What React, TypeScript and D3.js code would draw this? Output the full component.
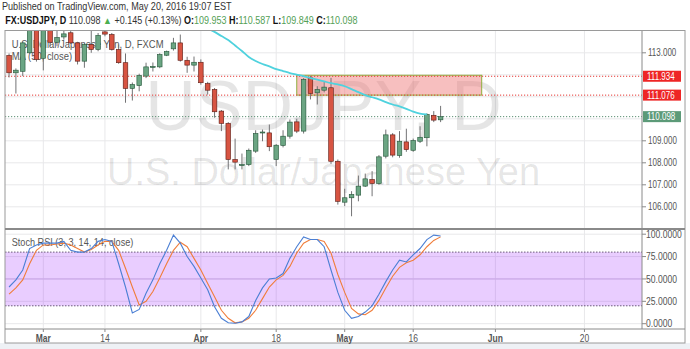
import React from 'react';
import * as d3 from 'd3';

// ---------- data ----------
const dates = [
  'Feb 23','Feb 24','Feb 25','Feb 26','Feb 29',
  'Mar 1','Mar 2','Mar 3','Mar 4','Mar 7','Mar 8','Mar 9','Mar 10','Mar 11','Mar 14','Mar 15','Mar 16','Mar 17','Mar 18',
  'Mar 21','Mar 22','Mar 23','Mar 24','Mar 25','Mar 28','Mar 29','Mar 30','Mar 31',
  'Apr 1','Apr 4','Apr 5','Apr 6','Apr 7','Apr 8','Apr 11','Apr 12','Apr 13','Apr 14','Apr 15','Apr 18','Apr 19','Apr 20',
  'Apr 21','Apr 22','Apr 25','Apr 26','Apr 27','Apr 28','Apr 29',
  'May 2','May 3','May 4','May 5','May 6','May 9','May 10','May 11','May 12','May 13','May 16','May 17','May 18','May 19','May 20',
];
const opens = [
  112.88,112.09,112.16,113.00,114.05, 112.75,114.02,113.48,113.72,113.91, 113.45,112.62,113.38,113.15,113.95,
  113.83,113.15,112.55,111.38,111.51, 111.94,112.36,112.36,112.89,113.18, 113.45,112.66,112.44,112.57,111.60,
  111.33,110.35,109.79,108.15,107.90, 107.92,108.53,109.38,109.36,108.15, 108.79,109.21,109.86,109.44,111.86,
  111.18,111.30,111.41,108.07,106.21, 106.41,106.53,106.94,107.24,107.06, 108.30,109.27,108.33,108.95,108.57,
  108.98,109.14,110.16,109.953,
];
const highs = [
  112.97,112.29,113.51,114.30,114.20, 114.30,114.20,114.10,114.10,114.00, 113.50,113.45,114.30,113.90,114.20,
  113.90,113.38,112.97,111.65,112.05, 112.55,112.56,112.98,113.10,113.68, 113.83,112.82,112.83,112.70,111.68,
  111.40,110.40,109.85,109.10,108.42, 108.65,109.48,109.51,109.74,108.85, 109.48,109.97,110.00,111.85,111.95,
  111.48,111.71,111.86,108.15,106.82, 106.71,107.42,107.51,107.62,108.35, 109.51,109.35,109.44,109.55,109.10,
  109.66,110.25,110.35,110.587,
];
const lows = [
  111.88,111.15,111.94,112.95,112.60, 112.20,113.30,113.30,113.60,113.40, 112.47,112.32,113.00,113.07,113.75,
  113.10,112.50,110.73,110.83,111.25, 111.85,112.15,112.30,112.85,113.10, 112.60,112.09,112.15,111.55,111.10,
  110.05,109.44,107.70,107.70,107.70, 107.85,108.45,108.98,108.53,107.85, 108.70,109.10,109.35,109.33,110.88,
  110.65,111.20,107.95,106.10,106.03, 105.57,106.25,106.90,106.48,107.00, 108.20,108.25,108.23,108.50,108.50,
  108.90,108.75,109.85,109.849,
];
const closes = [
  112.09,112.21,113.45,114.05,112.70, 114.10,113.48,113.70,113.86,113.45, 112.62,113.38,113.15,113.79,113.85,
  113.15,112.55,111.38,111.56,111.97, 112.36,112.38,112.92,113.06,113.45, 112.66,112.44,112.57,111.64,111.30,
  110.32,109.79,108.15,108.03,107.92, 108.57,109.33,109.40,108.73,108.80, 109.21,109.85,109.44,111.79,111.15,
  111.33,111.44,108.07,106.25,106.41, 106.56,106.94,107.27,107.06,108.27, 109.27,108.35,108.98,108.60,109.01,
  109.16,110.20,109.94,110.098,
];
// 50-day moving average (null = not shown / above the pane)
const ma50 = [
  null,null,null,null,null, null,null,null,null,null, null,null,null,null,null,
  null,null,null,null,null, null,null,null,null,null, null,null,null,114.25,114.10,
  113.95,113.76,113.58,113.33,113.08, 112.81,112.63,112.49,112.38,112.26, 112.17,112.08,112.01,111.94,111.85,
  111.78,111.70,111.62,111.56,111.48, 111.35,111.21,111.08,110.98,110.88, 110.76,110.65,110.56,110.45,110.33,
  110.24,110.20,null,null,
];
const stochK = [
  41,49,60,84,88, 90,90,90,92,82, 80,80,84,92,94, 92,67,41,12,16, 34,49,67,82,99, 90,75,64,51,38,
  19,6,1,0.5,2, 8,26,40,50,51, 56,73,86,97,94, 94,86,60,35,15, 6,8,13,20,33, 47,60,71,69,77, 84,94,99,98,
];
const stochD = [
  33,40,49,67,82, 88,88,89,90,88, 84,80,83,88,92, 92,82,62,41,21, 25,36,51,67,82, 91,86,73,60,45,
  30,15,6,1,2, 6,15,28,41,49, 54,64,79,90,94, 94,92,79,55,35, 17,11,10,15,26, 40,53,63,68,71, 77,86,93,97,
];
// x-axis tick labels: bar index (trading days from Feb 23) and text
const xTickIndex = [5, 14, 28, 39, 49, 59, 71, 84];
const xTickLabels = ['Mar', '14', 'Apr', '18', 'May', '16', 'Jun', '20'];
const xTickBold = [true, false, true, false, true, false, true, false];
const priceTicks = [106, 107, 108, 109, 110, 111, 112, 113];
const stochTicks = [0, 25, 50, 75, 100];
const levelResistance = 111.934;
const levelSupport = 111.076;
const lastPrice = 110.098;
const boxFrom = 42; // bar index
const boxTo = 69;   // bar index
const boxTop = 111.98;
const boxBottom = 111.076;

// ---------- layout ----------
const W = 690, H = 349;
const L = 5, R = 642, FR = 685;
const mainTop = 31, mainBottom = 228;
const stTop = 230, stBottom = 328;
const axisBottom = 343;
const FONT = '"Liberation Sans", Arial, sans-serif';

const x = d3.scaleLinear().domain([0, 63]).range([9.05, 440.6]);
const y = d3.scaleLinear().domain([106, 113]).range([206.8, 52.8]);
const ys = d3.scaleLinear().domain([0, 100]).range([323.7, 234.2]);

const UP = '#6ba583', DOWN = '#d75442', UPB = '#225437', DOWNB = '#5b1a13', WICK = '#737375';

function T({ x: tx, y: ty, sx = 0.84, size = 10, anchor = 'start', fill = '#555', weight = 'normal', children }: any) {
  return (
    <g transform={`translate(${tx},${ty}) scale(${sx},1)`}>
      <text x={0} y={0} textAnchor={anchor} fontSize={size} fill={fill} fontWeight={weight} fontFamily={FONT}>
        {children}
      </text>
    </g>
  );
}

export default function App() {
  const idx = d3.range(dates.length);
  const bw = 4.6;
  const maLine = d3.line<number>()
    .defined((i) => ma50[i] != null)
    .x((i) => x(i))
    .y((i) => y(ma50[i] as number))
    .curve(d3.curveMonotoneX);
  const kLine = d3.line<number>().x((i) => x(i)).y((i) => ys(stochK[i]));
  const dLine = d3.line<number>().x((i) => x(i)).y((i) => ys(stochD[i]));
  const flagTargets = [levelResistance, levelSupport, lastPrice];
  const shownPriceTicks = priceTicks.filter((p) => flagTargets.every((f) => Math.abs(y(p) - y(f)) > 10));

  const flag = (v: number, color: string) => (
    <g key={v}>
      <rect x={R + 1} y={y(v) - 5.5} width={38} height={11} fill={color} />
      <T x={R + 5} y={y(v) + 3.6} sx={0.8} fill="#fff">{v.toFixed(3)}</T>
    </g>
  );

  return (
    <div style={{ position: 'fixed', left: 0, top: 0, width: W, height: H, background: '#fff' }}>
      <svg width={W} height={H} style={{ display: 'block' }}>
        <defs>
          <clipPath id="cmain"><rect x={L} y={mainTop} width={R - L} height={mainBottom - mainTop} /></clipPath>
          <clipPath id="cst"><rect x={L} y={stTop} width={R - L} height={stBottom - stTop} /></clipPath>
        </defs>
        <rect x={0} y={0} width={W} height={H} fill="#fff" />
        <rect x={0} y={axisBottom} width={W} height={H - axisBottom} fill="#eef1f5" />

        {/* header */}
        <T x={2} y={10} sx={0.91} size={10} fill="#333">Published on TradingView.com, May 20, 2016 19:07 EST</T>
        <g transform="translate(5.3,24.3) scale(0.9,1)">
          <text x={0} y={0} fontSize={10} fontFamily={FONT} fill="#333">
            <tspan fontWeight="bold" fill="#111">FX:USDJPY, D</tspan>
            <tspan> 110.098 </tspan>
            <tspan fill="#4caf50">▲</tspan>
            <tspan> +0.145 (+0.13%) </tspan>
            <tspan fontWeight="bold" fill="#111">O:</tspan><tspan fill="#53a055">109.953 </tspan>
            <tspan fontWeight="bold" fill="#111">H:</tspan><tspan fill="#53a055">110.587 </tspan>
            <tspan fontWeight="bold" fill="#111">L:</tspan><tspan fill="#53a055">109.849 </tspan>
            <tspan fontWeight="bold" fill="#111">C:</tspan><tspan fill="#53a055">110.098</tspan>
          </text>
        </g>

        {/* main pane */}
        <g clipPath="url(#cmain)">
          {xTickIndex.map((t) => (
            <line key={'vg' + t} x1={x(t)} x2={x(t)} y1={mainTop} y2={mainBottom} stroke="#e8e8ea" />
          ))}
          {priceTicks.map((p) => (
            <line key={'hg' + p} x1={L} x2={R} y1={y(p)} y2={y(p)} stroke="#e8e8ea" />
          ))}
          <text x={323.5} y={130} textAnchor="middle" fontSize={70} fontFamily={FONT} fill="#000" fillOpacity={0.1}>USDJPY, D</text>
          <text x={323.5} y={185} textAnchor="middle" fontSize={38} fontFamily={FONT} fill="#000" fillOpacity={0.1}>U.S. Dollar/Japanese Yen</text>
          <T x={11.7} y={48} sx={0.86} size={11} fill="#555">U.S. Dollar/Japanese Yen, D, FXCM</T>
          <T x={11.7} y={60} sx={0.86} size={11} fill="#555">MA (50, close)</T>

          <rect x={x(boxFrom)} y={y(boxTop)} width={x(boxTo) - x(boxFrom)} height={y(boxBottom) - y(boxTop)}
            fill="#f08080" fillOpacity={0.5} stroke="#8fae3c" strokeWidth={1} />
          <line x1={L} x2={R} y1={y(levelResistance)} y2={y(levelResistance)} stroke="#e53935" strokeDasharray="1.2,1.8" />
          <line x1={L} x2={R} y1={y(levelSupport)} y2={y(levelSupport)} stroke="#e53935" strokeDasharray="1.2,1.8" />
          <line x1={L} x2={R} y1={y(lastPrice)} y2={y(lastPrice)} stroke="#5b8f73" strokeDasharray="1.2,1.8" />

          {idx.map((i) => {
            const o = opens[i], c = closes[i];
            const up = c >= o;
            const top = y(Math.max(o, c));
            const h = Math.max(1, y(Math.min(o, c)) - top);
            return (
              <g key={'c' + i}>
                <line x1={x(i)} x2={x(i)} y1={y(highs[i])} y2={y(lows[i])} stroke={WICK} strokeWidth={1} />
                <rect x={x(i) - bw / 2} y={top} width={bw} height={h}
                  fill={up ? UP : DOWN} stroke={up ? UPB : DOWNB} strokeWidth={0.6} />
              </g>
            );
          })}
          <path d={maLine(idx) || ''} fill="none" stroke="#4fd2de" strokeWidth={1.8} />
        </g>

        {/* stoch pane */}
        <g clipPath="url(#cst)">
          {xTickIndex.map((t) => (
            <line key={'svg' + t} x1={x(t)} x2={x(t)} y1={stTop} y2={stBottom} stroke="#e8e8ea" />
          ))}
          {stochTicks.map((s) => (
            <line key={'shg' + s} x1={L} x2={R} y1={ys(s)} y2={ys(s)} stroke="#e8e8ea" />
          ))}
          <rect x={L} y={ys(80)} width={R - L} height={ys(20) - ys(80)} fill="#9915ff" fillOpacity={0.21} />
          <line x1={L} x2={R} y1={ys(80)} y2={ys(80)} stroke="#6a5a78" strokeDasharray="1.5,1.5" />
          <line x1={L} x2={R} y1={ys(20)} y2={ys(20)} stroke="#6a5a78" strokeDasharray="1.5,1.5" />
          <line x1={L} x2={R} y1={ys(50)} y2={ys(50)} stroke="#c9a6e6" />
          <T x={11.7} y={246} sx={0.83} size={11} fill="#555">Stoch RSI (3, 3, 14, 14, close)</T>
          <path d={dLine(idx) || ''} fill="none" stroke="#f07d3a" strokeWidth={1.1} />
          <path d={kLine(idx) || ''} fill="none" stroke="#4b7fd4" strokeWidth={1.1} />
        </g>

        {/* frames */}
        <rect x={L} y={mainTop - 0.5} width={FR - L} height={axisBottom - mainTop + 0.5} fill="none" stroke="#9a9a9a" />
        <line x1={R} x2={R} y1={mainTop} y2={stBottom + 1} stroke="#8a8a8a" />
        <line x1={L} x2={FR} y1={mainBottom + 1} y2={mainBottom + 1} stroke="#8a8a8a" strokeWidth={2} />
        <line x1={L} x2={FR} y1={stBottom + 1} y2={stBottom + 1} stroke="#8a8a8a" />

        {/* price axis */}
        {shownPriceTicks.map((p) => (
          <g key={'pt' + p}>
            <line x1={R} x2={R + 4} y1={y(p)} y2={y(p)} stroke="#8a8a8a" />
            <T x={R + 6} y={y(p) + 3.6} sx={0.8} fill="#555">{p.toFixed(3)}</T>
          </g>
        ))}
        {flag(levelResistance, '#ee2626')}
        {flag(levelSupport, '#ee2626')}
        {flag(lastPrice, '#5c9a78')}

        {/* stoch axis */}
        {stochTicks.map((s) => (
          <g key={'st' + s}>
            <line x1={R} x2={R + 4} y1={ys(s)} y2={ys(s)} stroke="#8a8a8a" />
            <T x={R + 4} y={ys(s) + 3.6} sx={0.86} fill="#555">{s.toFixed(4)}</T>
          </g>
        ))}

        {/* x axis */}
        {xTickIndex.map((t, k) => (
          <g key={'xt' + t}>
            <line x1={x(t)} x2={x(t)} y1={stBottom + 1} y2={stBottom + 4} stroke="#8a8a8a" />
            <T x={x(t)} y={341.5} sx={0.85} anchor="middle" fill="#555" weight={xTickBold[k] ? 'bold' : 'normal'}>
              {xTickLabels[k]}
            </T>
          </g>
        ))}
      </svg>
    </div>
  );
}
